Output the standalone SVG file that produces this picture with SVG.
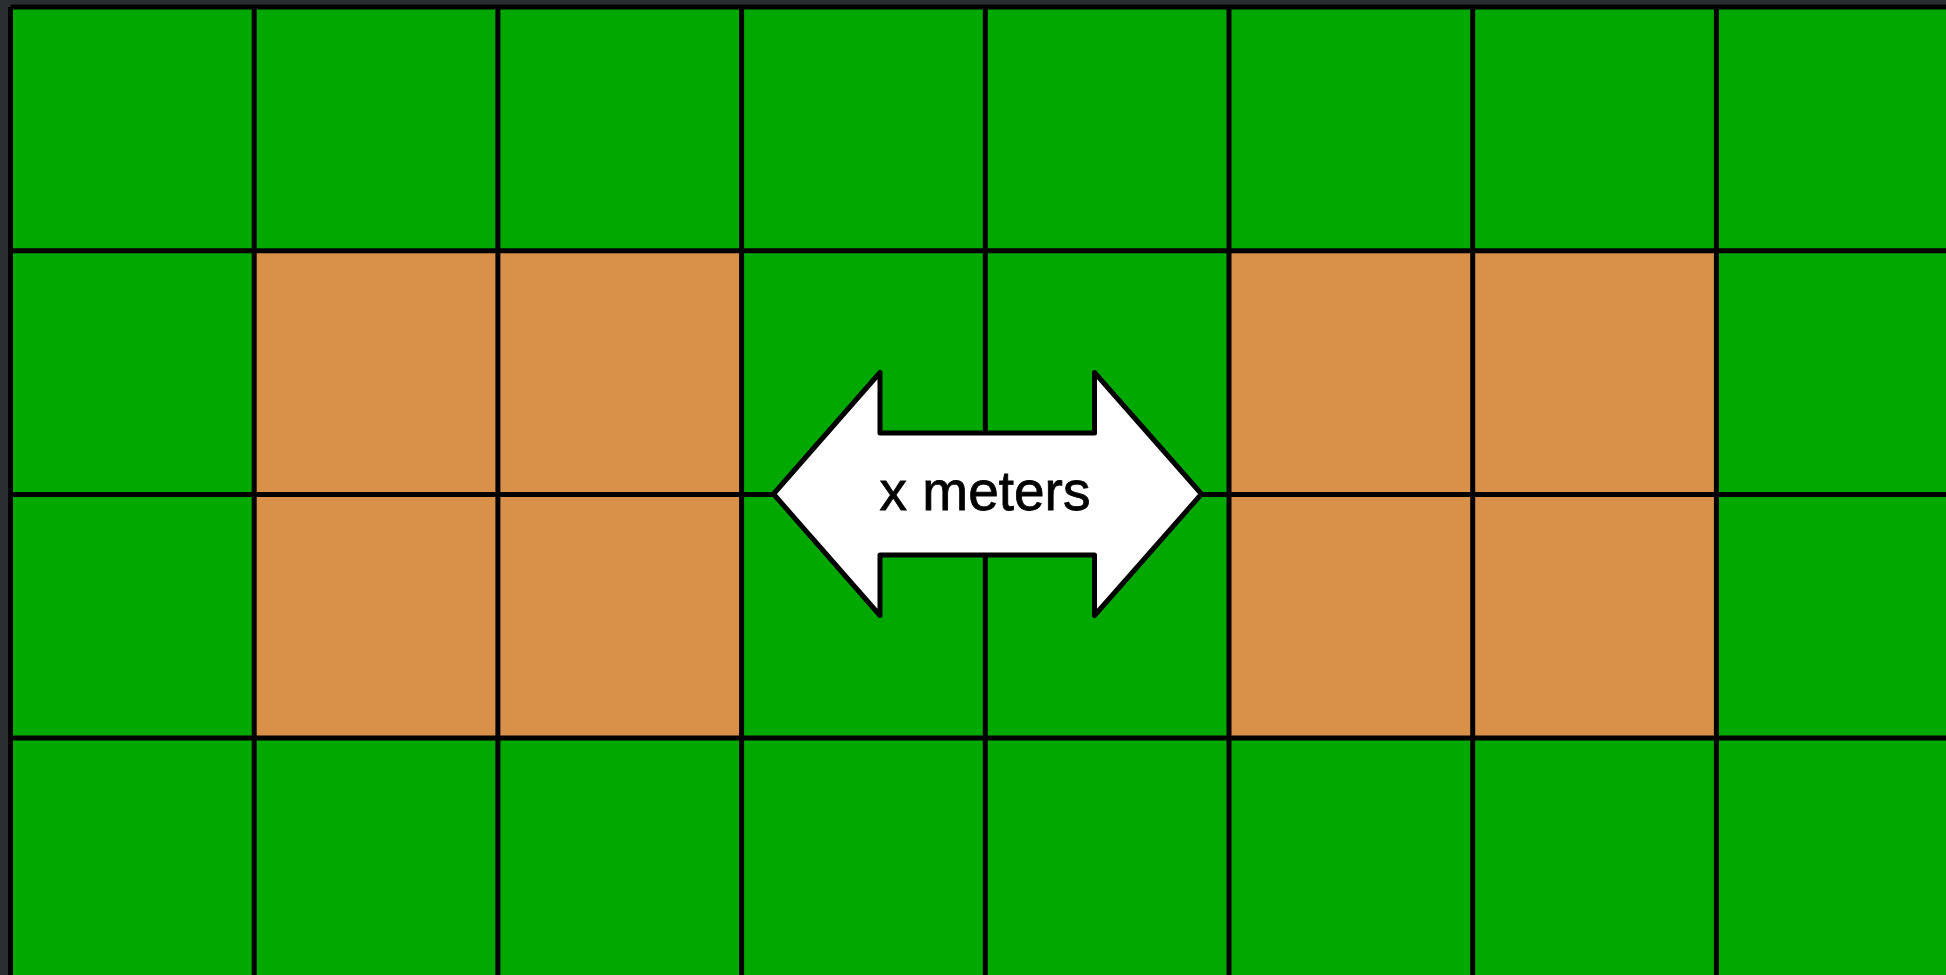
<svg xmlns="http://www.w3.org/2000/svg" width="1946" height="975" viewBox="0 0 1946 975">
<style>
.g{fill:#00a800}
.o{fill:#d99149}
.ln{stroke:#000;stroke-width:5;fill:none}
.lbl{font-family:"Liberation Sans",Arial,sans-serif;font-size:55px;fill:#000;stroke:#000;stroke-width:0.8}
</style>
<rect x="0" y="0" width="1946" height="975" fill="#2b2e31"/>
<g id="field">
<rect class="g" x="10.5" y="7" width="1936" height="968"/>
<rect class="o" x="254.2" y="250.7" width="487.4" height="487.4"/>
<rect class="o" x="1229" y="250.7" width="487.4" height="487.4"/>
</g>
<g id="grid" class="ln">
<path d="M10.5,7 V975 M254.2,7 V975 M497.9,7 V975 M741.6,7 V975 M985.3,7 V975 M1229,7 V975 M1472.7,7 V975 M1716.4,7 V975"/>
<path d="M10.5,7 H1946 M10.5,250.7 H1946 M10.5,494.4 H1946 M10.5,738.1 H1946"/>
</g>
<g id="arrow">
<path d="M773.5,494 L880,372.5 V433 H1094.5 V372.5 L1201.5,494 L1094.5,615.5 V555 H880 V615.5 Z" fill="#fff" stroke="#000" stroke-width="5" stroke-linejoin="round"/>
<text class="lbl" x="985" y="510" text-anchor="middle">x meters</text>
</g>
</svg>
